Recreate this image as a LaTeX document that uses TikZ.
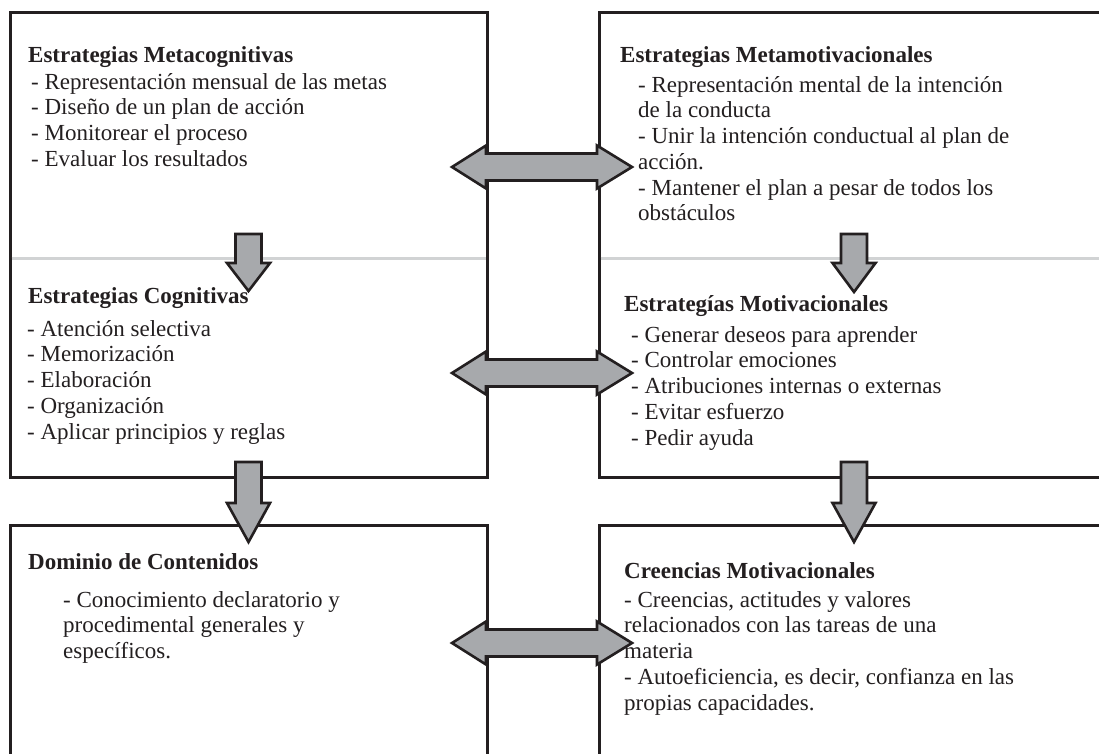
\documentclass[tikz,border=0pt]{standalone}
\usepackage{fontspec}
\setmainfont{Liberation Serif}
\definecolor{ink}{HTML}{231F20}
\definecolor{arrowgray}{HTML}{A7A9AC}
\definecolor{divider}{HTML}{D1D3D4}

% block arrow pointing down: centre x, shaft top, head base, tip
\newcommand\fatdown[4]{%
  \path[fatarrow] (#1-13,#2) -- (#1+13,#2) -- (#1+13,#3) -- (#1+21.5,#3)
    -- (#1,#4) -- (#1-21.5,#3) -- (#1-13,#3) -- cycle;}
% double-headed block arrow: centre x, centre y
\newcommand\fatboth[2]{%
  \path[fatarrow] (#1-90,#2) -- (#1-56,#2-21.5) -- (#1-56,#2-13.5)
    -- (#1+55,#2-13.5) -- (#1+55,#2-21.5) -- (#1+90,#2) -- (#1+55,#2+21.5)
    -- (#1+55,#2+13.5) -- (#1-56,#2+13.5) -- (#1-56,#2+21.5) -- cycle;}

\begin{document}
\begin{tikzpicture}[x=1pt,y=-1pt,
  frame/.style={draw=ink, line width=3pt},
  divline/.style={draw=divider, line width=3pt},
  fatarrow/.style={draw=ink, fill=arrowgray, line width=2.6pt, line join=miter},
  head/.style={anchor=base west, inner sep=0pt,
    font=\fontsize{23}{26}\selectfont\bfseries, text=ink},
  items/.style={anchor=north west, inner sep=0pt, align=left,
    font=\fontsize{23}{25.7}\selectfont, text=ink},
]
\useasboundingbox[fill=white] (0,0) rectangle (1099,753);

% frames
\draw[frame] (10,12) rectangle (487,477);
\draw[frame] (10,760) -- (10,525) -- (487,525) -- (487,760);
\draw[frame] (1105,12) -- (599,12) -- (599,477) -- (1105,477);
\draw[frame] (1105,525) -- (599,525) -- (599,760);
\draw[divline] (11.5,258) -- (485.5,258);
\draw[divline] (600.5,258) -- (1105,258);

% texts
\node[head] (hmc) at (28,62) {Estrategias Metacognitivas};
\node[items] (lmc) at (31,69) {\rule{0pt}{20pt}- Representación mensual de las metas\\
  - Diseño de un plan de acción\\- Monitorear el proceso\\- Evaluar los resultados};

\node[head] (hmm) at (620,62) {Estrategias Metamotivacionales};
\node[items] (lmm) at (638,72) {\rule{0pt}{20pt}- Representación mental de la intención\\
  de la conducta\\- Unir la intención conductual al plan de\\acción.\\
  - Mantener el plan a pesar de todos los\\obstáculos};

\node[head] (hcg) at (28,303) {Estrategias Cognitivas};
\node[items] (lcg) at (27,316) {\rule{0pt}{20pt}- Atención selectiva\\- Memorización\\
  - Elaboración\\- Organización\\- Aplicar principios y reglas};

\node[head] (hmo) at (624,311) {Estrategías Motivacionales};
\node[items] (lmo) at (631,322) {\rule{0pt}{20pt}- Generar deseos para aprender\\
  - Controlar emociones\\- Atribuciones internas o externas\\- Evitar esfuerzo\\- Pedir ayuda};

\node[head] (hdc) at (28,569) {Dominio de Contenidos};
\node[items] (ldc) at (63,587) {\rule{0pt}{20pt}- Conocimiento declaratorio y\\
  procedimental generales y\\específicos.};

\node[head] (hcm) at (624,578) {Creencias Motivacionales};
\node[items] (lcm) at (624,587) {\rule{0pt}{20pt}- Creencias, actitudes y valores\\
  relacionados con las tareas de una\\materia\\
  - Autoeficiencia, es decir, confianza en las\\propias capacidades.};

% block arrows
\fatboth{542}{167}
\fatboth{542}{373}
\fatboth{542}{643}
\fatdown{248.5}{234}{263}{291}
\fatdown{854}{234}{263}{292}
\fatdown{248.5}{462}{503}{542}
\fatdown{854}{462}{503}{542}
\end{tikzpicture}
\end{document}
